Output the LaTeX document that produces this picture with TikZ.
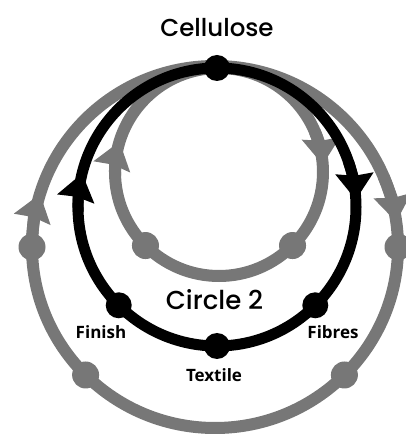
\documentclass[tikz,border=0pt]{standalone}
\usepackage{fontspec}
\setmainfont{Poppins}
\newfontfamily\titlefont{Poppins Medium}
\newfontfamily\lblfont{Open Sans}
\usetikzlibrary{arrows.meta}
\definecolor{cgray}{RGB}{119,119,119}
\tikzset{
  graydot/.style={circle, fill=cgray, inner sep=0pt, minimum size=27pt},
  blackdot/.style={circle, fill=black, inner sep=0pt, minimum size=26pt},
  grayloop/.style={draw=cgray, line width=12pt},
  blackloop/.style={draw=black, line width=11pt},
  tiparrow/.style={-{Stealth[length=26pt,width=37pt,inset=2pt]}},
  lbl/.style={font=\lblfont\bfseries\fontsize{17}{17}\selectfont, inner sep=0pt},
  title/.style={font=\titlefont\fontsize{24.5}{25}\selectfont, inner sep=0pt},
  midtitle/.style={font=\titlefont\fontsize{26}{26}\selectfont, inner sep=0pt}
}
\begin{document}
\begin{tikzpicture}[x=1pt,y=1pt]
\useasboundingbox (0,0) rectangle (406,434);
\coordinate (co) at (215,187);
\coordinate (cb) at (217,227);
\coordinate (ci) at (219,262);
% outer gray loop
\draw[grayloop] (co) ellipse [x radius=183, y radius=181];
\draw[grayloop,tiparrow] ([shift={(178:183 and 181)}]co) arc[start angle=178,end angle=163,x radius=183,y radius=181];
\draw[grayloop,tiparrow] ([shift={(23:183 and 181)}]co) arc[start angle=23,end angle=8,x radius=183,y radius=181];
% inner gray loop
\draw[grayloop] (ci) circle [radius=104];
\draw[grayloop,tiparrow] ([shift={(182:104)}]ci) arc[start angle=182,end angle=163,radius=104];
\draw[grayloop,tiparrow] ([shift={(23:104)}]ci) arc[start angle=23,end angle=4,radius=104];
% gray dots
\node[graydot] (o1) at ([shift={(180:183 and 181)}]co) {};
\node[graydot] (o2) at ([shift={(225:183 and 181)}]co) {};
\node[graydot] (o3) at ([shift={(315:183 and 181)}]co) {};
\node[graydot] (o4) at ([shift={(0:183 and 181)}]co) {};
\node[graydot] (i1) at ([shift={(225:104)}]ci) {};
\node[graydot] (i2) at ([shift={(315:104)}]ci) {};
% black loop
\draw[blackloop] (cb) circle [radius=139];
\draw[blackloop,tiparrow] ([shift={(182:139)}]cb) arc[start angle=182,end angle=166,radius=139];
\draw[blackloop,tiparrow] ([shift={(19:139)}]cb) arc[start angle=19,end angle=3,radius=139];
\node[blackdot] (top) at ([shift={(90:139)}]cb) {};
\node[blackdot] (finish) at ([shift={(225:139)}]cb) {};
\node[blackdot] (textile) at ([shift={(270:139)}]cb) {};
\node[blackdot] (fibres) at ([shift={(315:139)}]cb) {};
% texts
\node[title,anchor=base] (cell) at (217,397) {Cellulose};
\node[midtitle,anchor=base] (circ) at (214.5,124) {Circle 2};
\node[lbl,anchor=base] (fin) at (101,95) {Finish};
\node[lbl,anchor=base] (fib) at (333,95) {Fibres};
\node[lbl,anchor=base] (tex) at (214,52) {Textile};
\end{tikzpicture}
\end{document}
